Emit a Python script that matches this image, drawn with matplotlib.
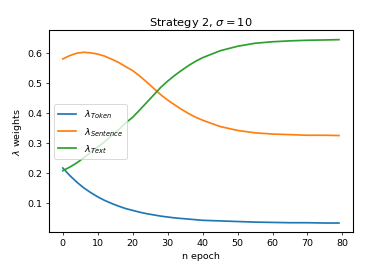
import numpy as np
import matplotlib
matplotlib.use('Agg')
import matplotlib.pyplot as plt

# values
epochs = [0, 2, 4, 6, 8, 10, 12, 14, 16, 18, 20, 22, 24, 26, 28, 30, 32, 34, 36, 38, 40,
          45, 50, 55, 60, 65, 70, 75, 79]
lam_token = [0.216, 0.191, 0.169, 0.150, 0.134, 0.120, 0.108, 0.098, 0.089, 0.081, 0.075,
             0.069, 0.064, 0.060, 0.056, 0.053, 0.050, 0.048, 0.046, 0.044, 0.042,
             0.040, 0.038, 0.036, 0.035, 0.034, 0.034, 0.033, 0.033]
lam_sentence = [0.579, 0.590, 0.598, 0.601, 0.599, 0.595, 0.588, 0.578, 0.567, 0.553, 0.540,
                0.522, 0.502, 0.481, 0.460, 0.442, 0.426, 0.411, 0.397, 0.385, 0.375,
                0.354, 0.341, 0.333, 0.329, 0.327, 0.325, 0.325, 0.324]
lam_text = [0.207, 0.219, 0.233, 0.250, 0.269, 0.286, 0.304, 0.324, 0.344, 0.366, 0.385,
            0.409, 0.434, 0.459, 0.484, 0.505, 0.524, 0.541, 0.557, 0.571, 0.583,
            0.606, 0.621, 0.631, 0.636, 0.639, 0.641, 0.642, 0.643]

plt.rcParams['font.size'] = 10.5

fig, ax = plt.subplots(figsize=(6.03, 4.03), dpi=65)

ax.plot(epochs, lam_token, lw=1.9, label=r'$\lambda_{Token}$')
ax.plot(epochs, lam_sentence, lw=1.9, label=r'$\lambda_{Sentence}$')
ax.plot(epochs, lam_text, lw=1.9, label=r'$\lambda_{Text}$')

ax.set_title(r'Strategy 2, $\sigma = 10$')
ax.set_xlabel('n epoch')
ax.set_ylabel(r'$\lambda$ weights')
ax.set_xticks([0, 10, 20, 30, 40, 50, 60, 70, 80])
for s in ax.spines.values():
    s.set_linewidth(1.2)
ax.legend(loc='center left')

fig.savefig('out.png', dpi=65)
